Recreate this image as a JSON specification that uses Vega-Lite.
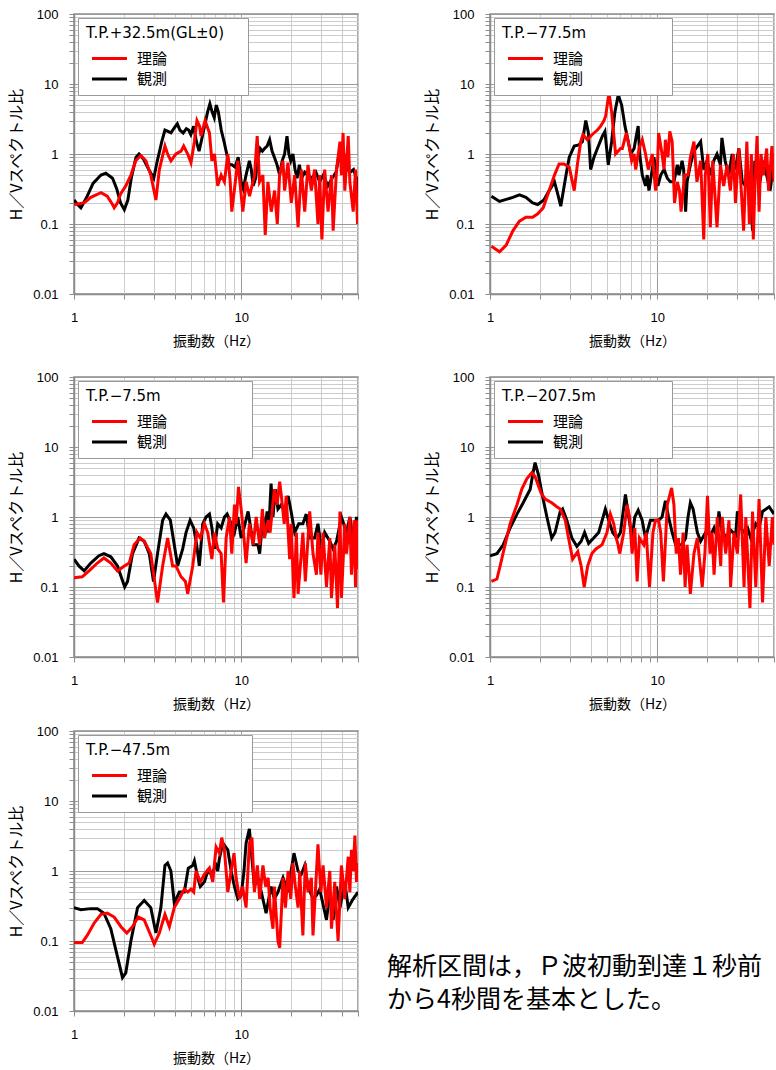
{
"$schema": "https://vega.github.io/schema/vega-lite/v6.json",
"padding": {"left": 7, "top": 7, "right": 0, "bottom": 0},
"datasets": {
"p1": [
{"s":"観測","f":1,"v":0.22},{"s":"観測","f":1.05,"v":0.19},{"s":"観測","f":1.1,"v":0.17},{"s":"観測","f":1.2,"v":0.25},{"s":"観測","f":1.3,"v":0.38},{"s":"観測","f":1.45,"v":0.5},{"s":"観測","f":1.55,"v":0.53},{"s":"観測","f":1.7,"v":0.45},{"s":"観測","f":1.8,"v":0.32},{"s":"観測","f":1.9,"v":0.2},{"s":"観測","f":2.0,"v":0.16},{"s":"観測","f":2.1,"v":0.22},{"s":"観測","f":2.2,"v":0.45},{"s":"観測","f":2.35,"v":0.9},{"s":"観測","f":2.45,"v":1.0},{"s":"観測","f":2.6,"v":0.85},{"s":"観測","f":2.8,"v":0.6},{"s":"観測","f":3.0,"v":0.45},{"s":"観測","f":3.15,"v":0.8},{"s":"観測","f":3.35,"v":1.5},{"s":"観測","f":3.5,"v":2.2},{"s":"観測","f":3.65,"v":2.1},{"s":"観測","f":3.8,"v":2.0},{"s":"観測","f":4.0,"v":2.4},{"s":"観測","f":4.15,"v":2.7},{"s":"観測","f":4.3,"v":2.2},{"s":"観測","f":4.5,"v":2.0},{"s":"観測","f":4.7,"v":2.3},{"s":"観測","f":4.85,"v":2.2},{"s":"観測","f":5.0,"v":1.9},{"s":"観測","f":5.2,"v":2.5},{"s":"観測","f":5.4,"v":1.5},{"s":"観測","f":5.6,"v":1.1},{"s":"観測","f":5.8,"v":1.6},{"s":"観測","f":6.1,"v":2.8},{"s":"観測","f":6.3,"v":4.0},{"s":"観測","f":6.5,"v":5.2},{"s":"観測","f":6.7,"v":4.0},{"s":"観測","f":6.9,"v":3.3},{"s":"観測","f":7.1,"v":5.0},{"s":"観測","f":7.3,"v":4.0},{"s":"観測","f":7.6,"v":2.2},{"s":"観測","f":7.9,"v":1.5},{"s":"観測","f":8.2,"v":1.0},{"s":"観測","f":8.5,"v":0.7},{"s":"観測","f":8.8,"v":0.7},{"s":"観測","f":9.2,"v":0.65},{"s":"観測","f":9.6,"v":0.9},{"s":"観測","f":10,"v":0.4},{"s":"観測","f":10.3,"v":0.32},{"s":"観測","f":10.7,"v":0.5},{"s":"観測","f":11.2,"v":0.8},{"s":"観測","f":11.5,"v":0.6},{"s":"観測","f":11.8,"v":0.35},{"s":"観測","f":12.2,"v":0.45},{"s":"観測","f":12.6,"v":0.9},{"s":"観測","f":13.0,"v":1.2},{"s":"観測","f":13.4,"v":1.1},{"s":"観測","f":13.8,"v":1.2},{"s":"観測","f":14.3,"v":1.3},{"s":"観測","f":14.8,"v":1.6},{"s":"観測","f":15.3,"v":1.1},{"s":"観測","f":15.8,"v":0.9},{"s":"観測","f":16.4,"v":0.7},{"s":"観測","f":17.0,"v":0.5},{"s":"観測","f":17.6,"v":0.8},{"s":"観測","f":18.2,"v":1.0},{"s":"観測","f":18.8,"v":1.8},{"s":"観測","f":19.3,"v":1.0},{"s":"観測","f":19.8,"v":0.8},{"s":"観測","f":20.4,"v":1.0},{"s":"観測","f":21.0,"v":0.6},{"s":"観測","f":21.6,"v":0.45},{"s":"観測","f":22.3,"v":0.7},{"s":"観測","f":23.0,"v":0.45},{"s":"観測","f":24,"v":0.55},{"s":"観測","f":25,"v":0.5},{"s":"観測","f":26.5,"v":0.45},{"s":"観測","f":28,"v":0.55},{"s":"観測","f":29.5,"v":0.4},{"s":"観測","f":31,"v":0.5},{"s":"観測","f":33,"v":0.35},{"s":"観測","f":35,"v":0.45},{"s":"観測","f":37,"v":0.55},{"s":"観測","f":38.5,"v":1.0},{"s":"観測","f":40,"v":0.7},{"s":"観測","f":41.5,"v":0.9},{"s":"観測","f":43,"v":0.6},{"s":"観測","f":45,"v":0.55},{"s":"観測","f":47,"v":0.6},{"s":"観測","f":49,"v":0.45},{"s":"観測","f":50,"v":0.25},
{"s":"理論","f":1,"v":0.19},{"s":"理論","f":1.15,"v":0.2},{"s":"理論","f":1.26,"v":0.24},{"s":"理論","f":1.45,"v":0.28},{"s":"理論","f":1.58,"v":0.25},{"s":"理論","f":1.7,"v":0.19},{"s":"理論","f":1.74,"v":0.17},{"s":"理論","f":1.82,"v":0.2},{"s":"理論","f":1.9,"v":0.27},{"s":"理論","f":2.04,"v":0.35},{"s":"理論","f":2.19,"v":0.5},{"s":"理論","f":2.34,"v":0.8},{"s":"理論","f":2.51,"v":0.95},{"s":"理論","f":2.69,"v":0.8},{"s":"理論","f":2.88,"v":0.5},{"s":"理論","f":3.09,"v":0.22},{"s":"理論","f":3.24,"v":0.6},{"s":"理論","f":3.5,"v":1.3},{"s":"理論","f":3.63,"v":1.0},{"s":"理論","f":3.8,"v":0.8},{"s":"理論","f":4.07,"v":1.0},{"s":"理論","f":4.37,"v":1.1},{"s":"理論","f":4.53,"v":1.3},{"s":"理論","f":4.79,"v":1.0},{"s":"理論","f":5.01,"v":0.75},{"s":"理論","f":5.25,"v":1.5},{"s":"理論","f":5.44,"v":3.0},{"s":"理論","f":5.64,"v":2.5},{"s":"理論","f":5.75,"v":1.8},{"s":"理論","f":6.08,"v":3.0},{"s":"理論","f":6.46,"v":2.0},{"s":"理論","f":6.68,"v":0.8},{"s":"理論","f":6.92,"v":1.0},{"s":"理論","f":7.24,"v":0.35},{"s":"理論","f":7.59,"v":0.5},{"s":"理論","f":7.94,"v":0.4},{"s":"理論","f":8.32,"v":1.0},{"s":"理論","f":8.6,"v":0.4},{"s":"理論","f":8.79,"v":0.15},{"s":"理論","f":9.55,"v":0.8},{"s":"理論","f":10.23,"v":0.15},{"s":"理論","f":10.72,"v":0.4},{"s":"理論","f":11.22,"v":0.25},{"s":"理論","f":12.02,"v":0.5},{"s":"理論","f":12.47,"v":1.8},{"s":"理論","f":12.88,"v":0.4},{"s":"理論","f":13.49,"v":0.5},{"s":"理論","f":13.93,"v":0.07},{"s":"理論","f":14.45,"v":0.4},{"s":"理論","f":15.14,"v":0.15},{"s":"理論","f":15.85,"v":0.3},{"s":"理論","f":16.45,"v":0.1},{"s":"理論","f":16.98,"v":0.5},{"s":"理論","f":17.78,"v":0.8},{"s":"理論","f":18.2,"v":0.3},{"s":"理論","f":19.05,"v":0.75},{"s":"理論","f":19.95,"v":0.2},{"s":"理論","f":20.9,"v":0.5},{"s":"理論","f":21.9,"v":0.09},{"s":"理論","f":22.9,"v":0.6},{"s":"理論","f":24.0,"v":0.15},{"s":"理論","f":25.1,"v":0.7},{"s":"理論","f":26.3,"v":0.3},{"s":"理論","f":27.5,"v":0.6},{"s":"理論","f":28.8,"v":0.1},{"s":"理論","f":29.5,"v":0.5},{"s":"理論","f":30.4,"v":0.06},{"s":"理論","f":31.6,"v":0.6},{"s":"理論","f":33.1,"v":0.15},{"s":"理論","f":34.7,"v":0.5},{"s":"理論","f":35.5,"v":0.08},{"s":"理論","f":37.2,"v":0.6},{"s":"理論","f":39.0,"v":1.5},{"s":"理論","f":39.8,"v":0.5},{"s":"理論","f":40.7,"v":2.0},{"s":"理論","f":41.7,"v":0.3},{"s":"理論","f":43.7,"v":1.8},{"s":"理論","f":44.7,"v":0.4},{"s":"理論","f":46.8,"v":0.15},{"s":"理論","f":48.3,"v":0.6},{"s":"理論","f":49.7,"v":0.1},{"s":"理論","f":50,"v":0.2}
],
"p2": [
{"s":"観測","f":1.02,"v":0.25},{"s":"観測","f":1.14,"v":0.21},{"s":"観測","f":1.37,"v":0.24},{"s":"観測","f":1.5,"v":0.26},{"s":"観測","f":1.64,"v":0.24},{"s":"観測","f":1.8,"v":0.2},{"s":"観測","f":1.93,"v":0.19},{"s":"観測","f":2.1,"v":0.22},{"s":"観測","f":2.26,"v":0.3},{"s":"観測","f":2.43,"v":0.4},{"s":"観測","f":2.53,"v":0.28},{"s":"観測","f":2.65,"v":0.18},{"s":"観測","f":2.85,"v":0.5},{"s":"観測","f":2.98,"v":0.9},{"s":"観測","f":3.19,"v":1.3},{"s":"観測","f":3.4,"v":1.35},{"s":"観測","f":3.57,"v":1.5},{"s":"観測","f":3.74,"v":3.0},{"s":"観測","f":3.88,"v":2.0},{"s":"観測","f":4.0,"v":0.6},{"s":"観測","f":4.19,"v":0.9},{"s":"観測","f":4.39,"v":1.2},{"s":"観測","f":4.7,"v":1.8},{"s":"観測","f":4.87,"v":2.1},{"s":"観測","f":5.1,"v":0.7},{"s":"観測","f":5.34,"v":1.5},{"s":"観測","f":5.59,"v":4.0},{"s":"観測","f":5.85,"v":7.0},{"s":"観測","f":6.13,"v":5.0},{"s":"観測","f":6.42,"v":2.5},{"s":"観測","f":6.72,"v":1.5},{"s":"観測","f":6.95,"v":1.0},{"s":"観測","f":7.28,"v":1.2},{"s":"観測","f":7.5,"v":1.8},{"s":"観測","f":7.7,"v":2.5},{"s":"観測","f":7.86,"v":1.0},{"s":"観測","f":8.15,"v":0.5},{"s":"観測","f":8.52,"v":0.35},{"s":"観測","f":8.72,"v":0.5},{"s":"観測","f":8.93,"v":0.3},{"s":"観測","f":9.35,"v":0.6},{"s":"観測","f":9.57,"v":0.9},{"s":"観測","f":9.79,"v":0.6},{"s":"観測","f":10.1,"v":0.35},{"s":"観測","f":10.5,"v":0.5},{"s":"観測","f":11.0,"v":0.6},{"s":"観測","f":11.5,"v":0.45},{"s":"観測","f":12.0,"v":0.4},{"s":"観測","f":12.6,"v":0.4},{"s":"観測","f":13.2,"v":0.7},{"s":"観測","f":13.5,"v":0.5},{"s":"観測","f":14.1,"v":0.8},{"s":"観測","f":14.4,"v":0.6},{"s":"観測","f":14.8,"v":0.15},{"s":"観測","f":15.1,"v":0.4},{"s":"観測","f":15.8,"v":0.7},{"s":"観測","f":16.6,"v":1.1},{"s":"観測","f":18.2,"v":1.5},{"s":"観測","f":19.0,"v":0.6},{"s":"観測","f":19.9,"v":0.8},{"s":"観測","f":20.8,"v":0.5},{"s":"観測","f":21.8,"v":0.8},{"s":"観測","f":22.8,"v":1.0},{"s":"観測","f":23.9,"v":0.7},{"s":"観測","f":24.4,"v":1.7},{"s":"観測","f":25.5,"v":0.8},{"s":"観測","f":26.8,"v":0.5},{"s":"観測","f":28.1,"v":1.0},{"s":"観測","f":29.4,"v":0.6},{"s":"観測","f":30.8,"v":1.2},{"s":"観測","f":32.3,"v":0.4},{"s":"観測","f":33.8,"v":0.35},{"s":"観測","f":35.4,"v":0.45},{"s":"観測","f":36.2,"v":0.3},{"s":"観測","f":37.2,"v":0.08},{"s":"観測","f":38.4,"v":0.8},{"s":"観測","f":41.2,"v":0.4},{"s":"観測","f":43.2,"v":0.8},{"s":"観測","f":45.2,"v":0.5},{"s":"観測","f":47.4,"v":0.3},{"s":"観測","f":50,"v":0.8},
{"s":"理論","f":1.02,"v":0.048},{"s":"理論","f":1.14,"v":0.04},{"s":"理論","f":1.25,"v":0.05},{"s":"理論","f":1.37,"v":0.08},{"s":"理論","f":1.5,"v":0.11},{"s":"理論","f":1.64,"v":0.125},{"s":"理論","f":1.8,"v":0.125},{"s":"理論","f":1.93,"v":0.14},{"s":"理論","f":2.08,"v":0.17},{"s":"理論","f":2.26,"v":0.3},{"s":"理論","f":2.43,"v":0.5},{"s":"理論","f":2.59,"v":0.72},{"s":"理論","f":2.77,"v":0.72},{"s":"理論","f":2.98,"v":0.65},{"s":"理論","f":3.19,"v":0.3},{"s":"理論","f":3.33,"v":0.7},{"s":"理論","f":3.49,"v":1.5},{"s":"理論","f":3.6,"v":1.9},{"s":"理論","f":3.82,"v":1.6},{"s":"理論","f":4.09,"v":1.9},{"s":"理論","f":4.39,"v":2.2},{"s":"理論","f":4.59,"v":2.5},{"s":"理論","f":4.81,"v":3.0},{"s":"理論","f":4.92,"v":3.5},{"s":"理論","f":5.15,"v":7.5},{"s":"理論","f":5.34,"v":4.0},{"s":"理論","f":5.64,"v":1.0},{"s":"理論","f":6.04,"v":1.2},{"s":"理論","f":6.19,"v":1.2},{"s":"理論","f":6.54,"v":2.0},{"s":"理論","f":6.84,"v":1.2},{"s":"理論","f":7.04,"v":0.8},{"s":"理論","f":7.28,"v":1.0},{"s":"理論","f":7.44,"v":0.6},{"s":"理論","f":7.79,"v":1.2},{"s":"理論","f":8.15,"v":1.6},{"s":"理論","f":8.52,"v":1.0},{"s":"理論","f":8.85,"v":0.6},{"s":"理論","f":9.35,"v":1.0},{"s":"理論","f":9.79,"v":0.3},{"s":"理論","f":10,"v":0.5},{"s":"理論","f":10.2,"v":2.0},{"s":"理論","f":10.7,"v":1.0},{"s":"理論","f":11.0,"v":0.6},{"s":"理論","f":11.2,"v":1.6},{"s":"理論","f":11.6,"v":0.9},{"s":"理論","f":11.9,"v":2.1},{"s":"理論","f":12.3,"v":1.5},{"s":"理論","f":12.7,"v":0.2},{"s":"理論","f":13.2,"v":0.4},{"s":"理論","f":13.6,"v":0.3},{"s":"理論","f":13.9,"v":0.15},{"s":"理論","f":14.6,"v":0.5},{"s":"理論","f":15.3,"v":0.5},{"s":"理論","f":15.8,"v":0.9},{"s":"理論","f":16.6,"v":1.5},{"s":"理論","f":17.3,"v":0.4},{"s":"理論","f":18.2,"v":0.8},{"s":"理論","f":19.0,"v":0.06},{"s":"理論","f":19.4,"v":0.5},{"s":"理論","f":20.1,"v":1.0},{"s":"理論","f":20.8,"v":0.09},{"s":"理論","f":21.5,"v":0.8},{"s":"理論","f":22.8,"v":0.09},{"s":"理論","f":23.9,"v":0.7},{"s":"理論","f":25.0,"v":0.35},{"s":"理論","f":26.2,"v":0.7},{"s":"理論","f":27.4,"v":0.3},{"s":"理論","f":28.6,"v":1.0},{"s":"理論","f":29.4,"v":0.2},{"s":"理論","f":30.8,"v":1.2},{"s":"理論","f":32.9,"v":0.08},{"s":"理論","f":34.4,"v":1.5},{"s":"理論","f":35.6,"v":0.1},{"s":"理論","f":36.6,"v":1.0},{"s":"理論","f":37.6,"v":0.06},{"s":"理論","f":38.5,"v":0.4},{"s":"理論","f":39.6,"v":1.8},{"s":"理論","f":40.7,"v":0.15},{"s":"理論","f":41.8,"v":1.0},{"s":"理論","f":43.2,"v":0.5},{"s":"理論","f":45.2,"v":1.2},{"s":"理論","f":46.4,"v":0.3},{"s":"理論","f":48.6,"v":1.3},{"s":"理論","f":50,"v":0.4}
],
"p3": [
{"s":"観測","f":1,"v":0.25},{"s":"観測","f":1.07,"v":0.2},{"s":"観測","f":1.15,"v":0.17},{"s":"観測","f":1.26,"v":0.22},{"s":"観測","f":1.41,"v":0.28},{"s":"観測","f":1.51,"v":0.3},{"s":"観測","f":1.66,"v":0.27},{"s":"観測","f":1.82,"v":0.2},{"s":"観測","f":2.01,"v":0.1},{"s":"観測","f":2.09,"v":0.12},{"s":"観測","f":2.24,"v":0.3},{"s":"観測","f":2.45,"v":0.5},{"s":"観測","f":2.63,"v":0.45},{"s":"観測","f":2.82,"v":0.3},{"s":"観測","f":2.99,"v":0.12},{"s":"観測","f":3.16,"v":0.3},{"s":"観測","f":3.39,"v":0.9},{"s":"観測","f":3.55,"v":1.1},{"s":"観測","f":3.77,"v":0.9},{"s":"観測","f":3.98,"v":0.4},{"s":"観測","f":4.17,"v":0.2},{"s":"観測","f":4.47,"v":0.35},{"s":"観測","f":4.68,"v":0.6},{"s":"観測","f":4.95,"v":0.9},{"s":"観測","f":5.2,"v":0.7},{"s":"観測","f":5.42,"v":0.4},{"s":"観測","f":5.62,"v":0.2},{"s":"観測","f":5.89,"v":0.8},{"s":"観測","f":6.17,"v":1.0},{"s":"観測","f":6.46,"v":1.1},{"s":"観測","f":6.68,"v":0.7},{"s":"観測","f":6.92,"v":0.35},{"s":"観測","f":7.24,"v":0.8},{"s":"観測","f":7.59,"v":0.7},{"s":"観測","f":7.94,"v":1.0},{"s":"観測","f":8.24,"v":1.1},{"s":"観測","f":8.71,"v":0.8},{"s":"観測","f":9.12,"v":0.6},{"s":"観測","f":9.55,"v":1.0},{"s":"観測","f":10,"v":0.5},{"s":"観測","f":10.4,"v":0.7},{"s":"観測","f":11.0,"v":1.2},{"s":"観測","f":11.4,"v":0.7},{"s":"観測","f":11.8,"v":0.4},{"s":"観測","f":12.6,"v":0.4},{"s":"観測","f":12.9,"v":0.3},{"s":"観測","f":13.5,"v":1.0},{"s":"観測","f":13.8,"v":0.6},{"s":"観測","f":14.3,"v":1.2},{"s":"観測","f":14.6,"v":0.6},{"s":"観測","f":15.1,"v":3.0},{"s":"観測","f":15.5,"v":1.0},{"s":"観測","f":16.0,"v":2.5},{"s":"観測","f":16.6,"v":1.3},{"s":"観測","f":17.4,"v":1.5},{"s":"観測","f":18.2,"v":1.2},{"s":"観測","f":19.1,"v":2.0},{"s":"観測","f":19.9,"v":1.2},{"s":"観測","f":20.9,"v":0.6},{"s":"観測","f":22.1,"v":0.8},{"s":"観測","f":23.4,"v":0.8},{"s":"観測","f":24.5,"v":1.1},{"s":"観測","f":25.7,"v":0.5},{"s":"観測","f":27.5,"v":0.5},{"s":"観測","f":28.8,"v":0.8},{"s":"観測","f":30.2,"v":0.35},{"s":"観測","f":31.6,"v":0.6},{"s":"観測","f":33.9,"v":0.45},{"s":"観測","f":35.5,"v":0.35},{"s":"観測","f":37.2,"v":0.45},{"s":"観測","f":39.8,"v":1.0},{"s":"観測","f":42.7,"v":0.6},{"s":"観測","f":44.7,"v":1.0},{"s":"観測","f":46.8,"v":0.45},{"s":"観測","f":49,"v":1.0},{"s":"観測","f":50,"v":0.8},
{"s":"理論","f":1,"v":0.135},{"s":"理論","f":1.12,"v":0.14},{"s":"理論","f":1.23,"v":0.17},{"s":"理論","f":1.38,"v":0.22},{"s":"理論","f":1.51,"v":0.26},{"s":"理論","f":1.66,"v":0.22},{"s":"理論","f":1.82,"v":0.17},{"s":"理論","f":2.0,"v":0.2},{"s":"理論","f":2.14,"v":0.22},{"s":"理論","f":2.29,"v":0.4},{"s":"理論","f":2.49,"v":0.5},{"s":"理論","f":2.63,"v":0.45},{"s":"理論","f":2.88,"v":0.3},{"s":"理論","f":3.16,"v":0.06},{"s":"理論","f":3.39,"v":0.2},{"s":"理論","f":3.63,"v":0.5},{"s":"理論","f":3.89,"v":0.2},{"s":"理論","f":4.07,"v":0.2},{"s":"理論","f":4.37,"v":0.14},{"s":"理論","f":4.64,"v":0.12},{"s":"理論","f":4.79,"v":0.08},{"s":"理論","f":5.13,"v":0.2},{"s":"理論","f":5.44,"v":0.6},{"s":"理論","f":5.7,"v":0.5},{"s":"理論","f":6.03,"v":0.8},{"s":"理論","f":6.31,"v":0.6},{"s":"理論","f":6.68,"v":0.25},{"s":"理論","f":6.92,"v":0.6},{"s":"理論","f":7.24,"v":0.35},{"s":"理論","f":7.59,"v":0.3},{"s":"理論","f":7.84,"v":0.06},{"s":"理論","f":8.13,"v":0.5},{"s":"理論","f":8.51,"v":1.0},{"s":"理論","f":8.79,"v":0.3},{"s":"理論","f":9.12,"v":1.5},{"s":"理論","f":9.33,"v":0.8},{"s":"理論","f":9.64,"v":2.7},{"s":"理論","f":10,"v":1.3},{"s":"理論","f":10.4,"v":0.5},{"s":"理論","f":10.7,"v":0.22},{"s":"理論","f":11.2,"v":0.8},{"s":"理論","f":11.8,"v":0.4},{"s":"理論","f":12.3,"v":1.0},{"s":"理論","f":12.9,"v":0.4},{"s":"理論","f":13.4,"v":1.3},{"s":"理論","f":13.8,"v":0.5},{"s":"理論","f":14.5,"v":0.9},{"s":"理論","f":14.9,"v":0.6},{"s":"理論","f":15.5,"v":1.6},{"s":"理論","f":15.8,"v":2.5},{"s":"理論","f":16.4,"v":1.5},{"s":"理論","f":17.0,"v":3.2},{"s":"理論","f":17.4,"v":2.0},{"s":"理論","f":18.1,"v":0.8},{"s":"理論","f":18.6,"v":2.0},{"s":"理論","f":19.5,"v":0.25},{"s":"理論","f":19.9,"v":0.8},{"s":"理論","f":20.7,"v":0.07},{"s":"理論","f":21.4,"v":0.6},{"s":"理論","f":21.9,"v":0.08},{"s":"理論","f":22.9,"v":0.3},{"s":"理論","f":23.4,"v":0.6},{"s":"理論","f":24.2,"v":0.12},{"s":"理論","f":25.7,"v":1.2},{"s":"理論","f":26.9,"v":0.3},{"s":"理論","f":28.2,"v":0.15},{"s":"理論","f":28.8,"v":0.6},{"s":"理論","f":30.0,"v":0.15},{"s":"理論","f":30.9,"v":0.6},{"s":"理論","f":32.4,"v":0.1},{"s":"理論","f":33.9,"v":0.5},{"s":"理論","f":34.7,"v":0.07},{"s":"理論","f":36.3,"v":0.4},{"s":"理論","f":37.7,"v":0.05},{"s":"理論","f":39.0,"v":1.2},{"s":"理論","f":39.8,"v":0.07},{"s":"理論","f":41.7,"v":0.8},{"s":"理論","f":42.7,"v":0.3},{"s":"理論","f":44.7,"v":1.0},{"s":"理論","f":45.7,"v":0.15},{"s":"理論","f":47.4,"v":0.9},{"s":"理論","f":48.3,"v":0.1},{"s":"理論","f":49.2,"v":0.9},{"s":"理論","f":50,"v":0.18}
],
"p4": [
{"s":"観測","f":1,"v":0.28},{"s":"観測","f":1.1,"v":0.3},{"s":"観測","f":1.2,"v":0.4},{"s":"観測","f":1.32,"v":0.7},{"s":"観測","f":1.45,"v":1.1},{"s":"観測","f":1.58,"v":1.6},{"s":"観測","f":1.74,"v":2.5},{"s":"観測","f":1.8,"v":4.0},{"s":"観測","f":1.86,"v":6.0},{"s":"観測","f":1.95,"v":4.0},{"s":"観測","f":2.06,"v":2.0},{"s":"観測","f":2.19,"v":1.0},{"s":"観測","f":2.34,"v":0.5},{"s":"観測","f":2.45,"v":0.6},{"s":"観測","f":2.63,"v":1.2},{"s":"観測","f":2.72,"v":1.3},{"s":"観測","f":2.88,"v":0.9},{"s":"観測","f":3.09,"v":0.5},{"s":"観測","f":3.31,"v":0.38},{"s":"観測","f":3.51,"v":0.45},{"s":"観測","f":3.68,"v":0.6},{"s":"観測","f":3.89,"v":0.42},{"s":"観測","f":4.17,"v":0.5},{"s":"観測","f":4.47,"v":0.6},{"s":"観測","f":4.9,"v":1.3},{"s":"観測","f":5.13,"v":0.9},{"s":"観測","f":5.42,"v":0.6},{"s":"観測","f":5.75,"v":0.5},{"s":"観測","f":6.03,"v":0.6},{"s":"観測","f":6.46,"v":2.1},{"s":"観測","f":6.76,"v":1.0},{"s":"観測","f":7.08,"v":0.5},{"s":"観測","f":7.35,"v":1.0},{"s":"観測","f":7.7,"v":1.25},{"s":"観測","f":8.13,"v":0.9},{"s":"観測","f":8.51,"v":0.5},{"s":"観測","f":9.12,"v":0.9},{"s":"観測","f":10.2,"v":0.9},{"s":"観測","f":10.7,"v":1.0},{"s":"観測","f":11.2,"v":1.7},{"s":"観測","f":11.7,"v":1.0},{"s":"観測","f":12.3,"v":0.6},{"s":"観測","f":12.9,"v":0.4},{"s":"観測","f":14.1,"v":0.4},{"s":"観測","f":14.8,"v":0.5},{"s":"観測","f":15.3,"v":1.0},{"s":"観測","f":15.8,"v":1.6},{"s":"観測","f":16.4,"v":1.3},{"s":"観測","f":17.4,"v":0.6},{"s":"観測","f":18.2,"v":0.45},{"s":"観測","f":19.5,"v":0.6},{"s":"観測","f":20.9,"v":0.55},{"s":"観測","f":21.9,"v":0.7},{"s":"観測","f":22.9,"v":0.5},{"s":"観測","f":23.4,"v":1.2},{"s":"観測","f":24.5,"v":0.6},{"s":"観測","f":26.3,"v":0.5},{"s":"観測","f":27.5,"v":0.65},{"s":"観測","f":29.5,"v":0.55},{"s":"観測","f":30.2,"v":1.2},{"s":"観測","f":32.4,"v":0.6},{"s":"観測","f":34.7,"v":0.7},{"s":"観測","f":36.3,"v":0.5},{"s":"観測","f":38.9,"v":0.8},{"s":"観測","f":40.7,"v":0.7},{"s":"観測","f":42.7,"v":1.2},{"s":"観測","f":46.8,"v":1.4},{"s":"観測","f":50,"v":1.1},
{"s":"理論","f":1.02,"v":0.12},{"s":"理論","f":1.1,"v":0.13},{"s":"理論","f":1.15,"v":0.2},{"s":"理論","f":1.23,"v":0.4},{"s":"理論","f":1.32,"v":0.8},{"s":"理論","f":1.45,"v":1.5},{"s":"理論","f":1.55,"v":2.5},{"s":"理論","f":1.66,"v":3.5},{"s":"理論","f":1.78,"v":4.3},{"s":"理論","f":1.86,"v":3.8},{"s":"理論","f":2.02,"v":2.2},{"s":"理論","f":2.14,"v":1.8},{"s":"理論","f":2.34,"v":1.6},{"s":"理論","f":2.51,"v":1.4},{"s":"理論","f":2.63,"v":1.3},{"s":"理論","f":2.82,"v":0.9},{"s":"理論","f":2.95,"v":0.5},{"s":"理論","f":3.12,"v":0.25},{"s":"理論","f":3.35,"v":0.32},{"s":"理論","f":3.51,"v":0.2},{"s":"理論","f":3.66,"v":0.1},{"s":"理論","f":3.84,"v":0.2},{"s":"理論","f":4.07,"v":0.3},{"s":"理論","f":4.3,"v":0.35},{"s":"理論","f":4.68,"v":0.4},{"s":"理論","f":5.01,"v":0.6},{"s":"理論","f":5.25,"v":1.1},{"s":"理論","f":5.5,"v":0.8},{"s":"理論","f":5.69,"v":0.5},{"s":"理論","f":5.84,"v":0.4},{"s":"理論","f":5.97,"v":0.3},{"s":"理論","f":6.31,"v":0.6},{"s":"理論","f":6.61,"v":1.5},{"s":"理論","f":6.84,"v":1.0},{"s":"理論","f":7.08,"v":0.3},{"s":"理論","f":7.35,"v":0.7},{"s":"理論","f":7.59,"v":0.12},{"s":"理論","f":7.84,"v":0.5},{"s":"理論","f":8.32,"v":0.4},{"s":"理論","f":8.6,"v":0.6},{"s":"理論","f":9.0,"v":0.1},{"s":"理論","f":9.44,"v":0.6},{"s":"理論","f":9.77,"v":0.9},{"s":"理論","f":10.2,"v":0.9},{"s":"理論","f":10.5,"v":0.6},{"s":"理論","f":10.9,"v":0.12},{"s":"理論","f":11.5,"v":1.5},{"s":"理論","f":12.2,"v":2.6},{"s":"理論","f":12.6,"v":1.5},{"s":"理論","f":13.0,"v":0.3},{"s":"理論","f":13.4,"v":0.5},{"s":"理論","f":13.8,"v":0.15},{"s":"理論","f":14.3,"v":0.6},{"s":"理論","f":14.7,"v":0.1},{"s":"理論","f":15.1,"v":0.4},{"s":"理論","f":15.8,"v":0.08},{"s":"理論","f":16.6,"v":0.3},{"s":"理論","f":17.4,"v":0.5},{"s":"理論","f":18.6,"v":0.1},{"s":"理論","f":19.3,"v":0.3},{"s":"理論","f":20.0,"v":2.0},{"s":"理論","f":20.7,"v":0.3},{"s":"理論","f":21.3,"v":0.6},{"s":"理論","f":21.9,"v":0.15},{"s":"理論","f":22.9,"v":1.0},{"s":"理論","f":24.0,"v":0.2},{"s":"理論","f":24.5,"v":1.0},{"s":"理論","f":25.7,"v":0.3},{"s":"理論","f":26.9,"v":0.9},{"s":"理論","f":27.5,"v":0.1},{"s":"理論","f":28.8,"v":0.6},{"s":"理論","f":30.2,"v":0.3},{"s":"理論","f":31.6,"v":2.1},{"s":"理論","f":33.1,"v":0.1},{"s":"理論","f":33.9,"v":1.0},{"s":"理論","f":35.9,"v":0.05},{"s":"理論","f":37.2,"v":1.2},{"s":"理論","f":38.9,"v":0.1},{"s":"理論","f":40.7,"v":1.8},{"s":"理論","f":42.7,"v":0.06},{"s":"理論","f":44.7,"v":1.0},{"s":"理論","f":46.8,"v":0.2},{"s":"理論","f":48.9,"v":1.0},{"s":"理論","f":50,"v":0.4}
],
"p5": [
{"s":"観測","f":1,"v":0.3},{"s":"観測","f":1.1,"v":0.28},{"s":"観測","f":1.26,"v":0.29},{"s":"観測","f":1.38,"v":0.29},{"s":"観測","f":1.51,"v":0.25},{"s":"観測","f":1.66,"v":0.15},{"s":"観測","f":1.82,"v":0.06},{"s":"観測","f":1.95,"v":0.03},{"s":"観測","f":2.04,"v":0.035},{"s":"観測","f":2.19,"v":0.1},{"s":"観測","f":2.4,"v":0.3},{"s":"観測","f":2.63,"v":0.38},{"s":"観測","f":2.88,"v":0.3},{"s":"観測","f":3.09,"v":0.13},{"s":"観測","f":3.31,"v":0.3},{"s":"観測","f":3.5,"v":1.2},{"s":"観測","f":3.63,"v":1.3},{"s":"観測","f":3.8,"v":1.0},{"s":"観測","f":3.98,"v":0.35},{"s":"観測","f":4.27,"v":0.5},{"s":"観測","f":4.57,"v":0.5},{"s":"観測","f":4.83,"v":1.1},{"s":"観測","f":5.13,"v":1.2},{"s":"観測","f":5.25,"v":1.4},{"s":"観測","f":5.5,"v":0.8},{"s":"観測","f":5.7,"v":0.6},{"s":"観測","f":6.03,"v":0.7},{"s":"観測","f":6.31,"v":1.0},{"s":"観測","f":6.61,"v":0.9},{"s":"観測","f":7.08,"v":1.2},{"s":"観測","f":7.24,"v":1.0},{"s":"観測","f":7.41,"v":1.5},{"s":"観測","f":7.76,"v":2.5},{"s":"観測","f":8.32,"v":2.0},{"s":"観測","f":8.71,"v":1.0},{"s":"観測","f":9.12,"v":0.6},{"s":"観測","f":9.55,"v":0.4},{"s":"観測","f":10,"v":0.45},{"s":"観測","f":10.4,"v":1.0},{"s":"観測","f":10.7,"v":2.5},{"s":"観測","f":11.2,"v":4.0},{"s":"観測","f":11.6,"v":1.5},{"s":"観測","f":12.0,"v":0.6},{"s":"観測","f":12.6,"v":0.8},{"s":"観測","f":13.2,"v":0.5},{"s":"観測","f":14.1,"v":0.25},{"s":"観測","f":15.1,"v":0.6},{"s":"観測","f":15.8,"v":0.4},{"s":"観測","f":16.6,"v":0.5},{"s":"観測","f":17.8,"v":0.8},{"s":"観測","f":19.1,"v":0.5},{"s":"観測","f":19.9,"v":1.0},{"s":"観測","f":20.7,"v":1.8},{"s":"観測","f":21.9,"v":1.0},{"s":"観測","f":22.9,"v":0.9},{"s":"観測","f":24.0,"v":1.2},{"s":"観測","f":25.1,"v":0.6},{"s":"観測","f":26.9,"v":0.4},{"s":"観測","f":28.2,"v":0.45},{"s":"観測","f":29.5,"v":0.55},{"s":"観測","f":32.4,"v":0.2},{"s":"観測","f":33.9,"v":0.5},{"s":"観測","f":35.5,"v":0.2},{"s":"観測","f":37.2,"v":0.6},{"s":"観測","f":39.0,"v":0.3},{"s":"観測","f":41.7,"v":0.7},{"s":"観測","f":43.7,"v":0.3},{"s":"観測","f":46.8,"v":0.4},{"s":"観測","f":50,"v":0.5},
{"s":"理論","f":1,"v":0.095},{"s":"理論","f":1.12,"v":0.095},{"s":"理論","f":1.2,"v":0.12},{"s":"理論","f":1.32,"v":0.18},{"s":"理論","f":1.45,"v":0.24},{"s":"理論","f":1.58,"v":0.25},{"s":"理論","f":1.74,"v":0.22},{"s":"理論","f":1.91,"v":0.16},{"s":"理論","f":2.07,"v":0.13},{"s":"理論","f":2.24,"v":0.16},{"s":"理論","f":2.42,"v":0.22},{"s":"理論","f":2.63,"v":0.2},{"s":"理論","f":2.88,"v":0.12},{"s":"理論","f":3.02,"v":0.09},{"s":"理論","f":3.24,"v":0.13},{"s":"理論","f":3.5,"v":0.24},{"s":"理論","f":3.72,"v":0.16},{"s":"理論","f":3.98,"v":0.3},{"s":"理論","f":4.27,"v":0.4},{"s":"理論","f":4.57,"v":0.55},{"s":"理論","f":4.79,"v":0.5},{"s":"理論","f":5.01,"v":0.55},{"s":"理論","f":5.2,"v":0.5},{"s":"理論","f":5.37,"v":1.0},{"s":"理論","f":5.7,"v":0.7},{"s":"理論","f":6.03,"v":0.9},{"s":"理論","f":6.46,"v":1.1},{"s":"理論","f":6.76,"v":0.7},{"s":"理論","f":7.08,"v":2.2},{"s":"理論","f":7.41,"v":1.8},{"s":"理論","f":7.65,"v":3.0},{"s":"理論","f":7.94,"v":2.0},{"s":"理論","f":8.32,"v":0.5},{"s":"理論","f":8.71,"v":1.0},{"s":"理論","f":9.06,"v":1.8},{"s":"理論","f":9.33,"v":0.8},{"s":"理論","f":9.77,"v":0.4},{"s":"理論","f":10.2,"v":0.6},{"s":"理論","f":10.7,"v":0.3},{"s":"理論","f":11.2,"v":2.5},{"s":"理論","f":11.6,"v":3.0},{"s":"理論","f":12.0,"v":0.5},{"s":"理論","f":12.5,"v":1.2},{"s":"理論","f":12.9,"v":0.4},{"s":"理論","f":13.5,"v":1.2},{"s":"理論","f":14.0,"v":0.6},{"s":"理論","f":14.5,"v":0.8},{"s":"理論","f":14.9,"v":0.3},{"s":"理論","f":15.5,"v":0.15},{"s":"理論","f":15.8,"v":0.6},{"s":"理論","f":16.6,"v":0.1},{"s":"理論","f":17.0,"v":0.08},{"s":"理論","f":17.8,"v":0.8},{"s":"理論","f":18.4,"v":0.3},{"s":"理論","f":19.1,"v":1.0},{"s":"理論","f":19.8,"v":0.4},{"s":"理論","f":20.4,"v":1.3},{"s":"理論","f":21.1,"v":0.6},{"s":"理論","f":21.9,"v":0.3},{"s":"理論","f":22.4,"v":1.0},{"s":"理論","f":23.4,"v":0.12},{"s":"理論","f":24.2,"v":1.3},{"s":"理論","f":25.1,"v":0.5},{"s":"理論","f":26.3,"v":0.8},{"s":"理論","f":26.9,"v":0.12},{"s":"理論","f":28.8,"v":2.4},{"s":"理論","f":30.0,"v":0.5},{"s":"理論","f":30.9,"v":1.2},{"s":"理論","f":32.4,"v":0.3},{"s":"理論","f":33.9,"v":1.0},{"s":"理論","f":34.7,"v":0.15},{"s":"理論","f":36.3,"v":0.7},{"s":"理論","f":38.0,"v":0.1},{"s":"理論","f":39.8,"v":1.2},{"s":"理論","f":41.7,"v":0.4},{"s":"理論","f":43.7,"v":1.6},{"s":"理論","f":44.7,"v":0.5},{"s":"理論","f":45.7,"v":2.0},{"s":"理論","f":46.8,"v":1.0},{"s":"理論","f":47.9,"v":3.2},{"s":"理論","f":49,"v":0.7},{"s":"理論","f":50,"v":1.3}
]
},
"resolve": {"scale": {"color": "independent"}, "legend": {"color": "independent"}},
"spacing": 12,
"vconcat": [
{
"resolve": {"scale": {"color": "independent"}, "legend": {"color": "independent"}},
"spacing": 21,
"vconcat": [
{
"resolve": {"scale": {"color": "independent"}, "legend": {"color": "independent"}},
"spacing": 63,
"hconcat": [
{"width": 284, "height": 280, "data": {"name": "p1"},
"encoding": {
"x": {"field": "f", "type": "quantitative", "title": "振動数（Hz）", "scale": {"type": "log", "domain": [1, 50], "nice": false}, "axis": {"values": [1,2,3,4,5,6,7,8,9,10,20,30,40,50], "labelExpr": "abs(log(datum.value)/LN10-round(log(datum.value)/LN10))<0.001 ? format(datum.value,'~g') : ''", "gridColor": {"condition": {"test": "abs(log(datum.value)/LN10-round(log(datum.value)/LN10))<0.001", "value": "#9a9a9a"}, "value": "#cccccc"}}},
"y": {"field": "v", "type": "quantitative", "title": "H／Vスペクトル比", "scale": {"type": "log", "domain": [0.01, 100], "nice": false}, "axis": {"values": [0.01,0.02,0.03,0.04,0.05,0.06,0.07,0.08,0.09,0.1,0.2,0.3,0.4,0.5,0.6,0.7,0.8,0.9,1,2,3,4,5,6,7,8,9,10,20,30,40,50,60,70,80,90,100], "labelExpr": "abs(log(datum.value)/LN10-round(log(datum.value)/LN10))<0.001 ? format(datum.value,'~g') : ''", "gridColor": {"condition": {"test": "abs(log(datum.value)/LN10-round(log(datum.value)/LN10))<0.001", "value": "#9a9a9a"}, "value": "#cccccc"}}},
"color": {"field": "s", "type": "nominal", "scale": {"domain": ["理論", "観測"], "range": ["#ff0000", "#000000"]}, "legend": {"title": "T.P.+32.5m(GL±0)\u00a0\u2800"}}
},
"layer": [
{"transform": [{"filter": "datum.s=='観測'"}], "mark": {"type": "line", "strokeWidth": 3, "clip": true}},
{"transform": [{"filter": "datum.s=='理論'"}], "mark": {"type": "line", "strokeWidth": 3, "clip": true}}
]},
{"width": 284, "height": 280, "data": {"name": "p2"},
"encoding": {
"x": {"field": "f", "type": "quantitative", "title": "振動数（Hz）", "scale": {"type": "log", "domain": [1, 50], "nice": false}, "axis": {"values": [1,2,3,4,5,6,7,8,9,10,20,30,40,50], "labelExpr": "abs(log(datum.value)/LN10-round(log(datum.value)/LN10))<0.001 ? format(datum.value,'~g') : ''", "gridColor": {"condition": {"test": "abs(log(datum.value)/LN10-round(log(datum.value)/LN10))<0.001", "value": "#9a9a9a"}, "value": "#cccccc"}}},
"y": {"field": "v", "type": "quantitative", "title": "H／Vスペクトル比", "scale": {"type": "log", "domain": [0.01, 100], "nice": false}, "axis": {"values": [0.01,0.02,0.03,0.04,0.05,0.06,0.07,0.08,0.09,0.1,0.2,0.3,0.4,0.5,0.6,0.7,0.8,0.9,1,2,3,4,5,6,7,8,9,10,20,30,40,50,60,70,80,90,100], "labelExpr": "abs(log(datum.value)/LN10-round(log(datum.value)/LN10))<0.001 ? format(datum.value,'~g') : ''", "gridColor": {"condition": {"test": "abs(log(datum.value)/LN10-round(log(datum.value)/LN10))<0.001", "value": "#9a9a9a"}, "value": "#cccccc"}}},
"color": {"field": "s", "type": "nominal", "scale": {"domain": ["理論", "観測"], "range": ["#ff0000", "#000000"]}, "legend": {"title": "T.P.−77.5m\u00a0\u00a0\u00a0\u00a0\u00a0\u00a0\u00a0\u00a0\u00a0\u00a0\u00a0\u00a0\u00a0\u00a0\u2800"}}
},
"layer": [
{"transform": [{"filter": "datum.s=='観測'"}], "mark": {"type": "line", "strokeWidth": 3, "clip": true}},
{"transform": [{"filter": "datum.s=='理論'"}], "mark": {"type": "line", "strokeWidth": 3, "clip": true}}
]}
]
},
{
"resolve": {"scale": {"color": "independent"}, "legend": {"color": "independent"}},
"spacing": 63,
"hconcat": [
{"width": 284, "height": 280, "data": {"name": "p3"},
"encoding": {
"x": {"field": "f", "type": "quantitative", "title": "振動数（Hz）", "scale": {"type": "log", "domain": [1, 50], "nice": false}, "axis": {"values": [1,2,3,4,5,6,7,8,9,10,20,30,40,50], "labelExpr": "abs(log(datum.value)/LN10-round(log(datum.value)/LN10))<0.001 ? format(datum.value,'~g') : ''", "gridColor": {"condition": {"test": "abs(log(datum.value)/LN10-round(log(datum.value)/LN10))<0.001", "value": "#9a9a9a"}, "value": "#cccccc"}}},
"y": {"field": "v", "type": "quantitative", "title": "H／Vスペクトル比", "scale": {"type": "log", "domain": [0.01, 100], "nice": false}, "axis": {"values": [0.01,0.02,0.03,0.04,0.05,0.06,0.07,0.08,0.09,0.1,0.2,0.3,0.4,0.5,0.6,0.7,0.8,0.9,1,2,3,4,5,6,7,8,9,10,20,30,40,50,60,70,80,90,100], "labelExpr": "abs(log(datum.value)/LN10-round(log(datum.value)/LN10))<0.001 ? format(datum.value,'~g') : ''", "gridColor": {"condition": {"test": "abs(log(datum.value)/LN10-round(log(datum.value)/LN10))<0.001", "value": "#9a9a9a"}, "value": "#cccccc"}}},
"color": {"field": "s", "type": "nominal", "scale": {"domain": ["理論", "観測"], "range": ["#ff0000", "#000000"]}, "legend": {"title": "T.P.−7.5m\u00a0\u00a0\u00a0\u00a0\u00a0\u00a0\u00a0\u00a0\u00a0\u00a0\u00a0\u00a0\u00a0\u00a0\u00a0\u2800"}}
},
"layer": [
{"transform": [{"filter": "datum.s=='観測'"}], "mark": {"type": "line", "strokeWidth": 3, "clip": true}},
{"transform": [{"filter": "datum.s=='理論'"}], "mark": {"type": "line", "strokeWidth": 3, "clip": true}}
]},
{"width": 284, "height": 280, "data": {"name": "p4"},
"encoding": {
"x": {"field": "f", "type": "quantitative", "title": "振動数（Hz）", "scale": {"type": "log", "domain": [1, 50], "nice": false}, "axis": {"values": [1,2,3,4,5,6,7,8,9,10,20,30,40,50], "labelExpr": "abs(log(datum.value)/LN10-round(log(datum.value)/LN10))<0.001 ? format(datum.value,'~g') : ''", "gridColor": {"condition": {"test": "abs(log(datum.value)/LN10-round(log(datum.value)/LN10))<0.001", "value": "#9a9a9a"}, "value": "#cccccc"}}},
"y": {"field": "v", "type": "quantitative", "title": "H／Vスペクトル比", "scale": {"type": "log", "domain": [0.01, 100], "nice": false}, "axis": {"values": [0.01,0.02,0.03,0.04,0.05,0.06,0.07,0.08,0.09,0.1,0.2,0.3,0.4,0.5,0.6,0.7,0.8,0.9,1,2,3,4,5,6,7,8,9,10,20,30,40,50,60,70,80,90,100], "labelExpr": "abs(log(datum.value)/LN10-round(log(datum.value)/LN10))<0.001 ? format(datum.value,'~g') : ''", "gridColor": {"condition": {"test": "abs(log(datum.value)/LN10-round(log(datum.value)/LN10))<0.001", "value": "#9a9a9a"}, "value": "#cccccc"}}},
"color": {"field": "s", "type": "nominal", "scale": {"domain": ["理論", "観測"], "range": ["#ff0000", "#000000"]}, "legend": {"title": "T.P.−207.5m\u00a0\u00a0\u00a0\u00a0\u00a0\u00a0\u00a0\u00a0\u00a0\u00a0\u00a0\u00a0\u2800"}}
},
"layer": [
{"transform": [{"filter": "datum.s=='観測'"}], "mark": {"type": "line", "strokeWidth": 3, "clip": true}},
{"transform": [{"filter": "datum.s=='理論'"}], "mark": {"type": "line", "strokeWidth": 3, "clip": true}}
]}
]
}
]
},
{
"resolve": {"scale": {"color": "independent"}, "legend": {"color": "independent"}},
"spacing": 27,
"hconcat": [
{"width": 284, "height": 280, "data": {"name": "p5"},
"encoding": {
"x": {"field": "f", "type": "quantitative", "title": "振動数（Hz）", "scale": {"type": "log", "domain": [1, 50], "nice": false}, "axis": {"values": [1,2,3,4,5,6,7,8,9,10,20,30,40,50], "labelExpr": "abs(log(datum.value)/LN10-round(log(datum.value)/LN10))<0.001 ? format(datum.value,'~g') : ''", "gridColor": {"condition": {"test": "abs(log(datum.value)/LN10-round(log(datum.value)/LN10))<0.001", "value": "#9a9a9a"}, "value": "#cccccc"}}},
"y": {"field": "v", "type": "quantitative", "title": "H／Vスペクトル比", "scale": {"type": "log", "domain": [0.01, 100], "nice": false}, "axis": {"values": [0.01,0.02,0.03,0.04,0.05,0.06,0.07,0.08,0.09,0.1,0.2,0.3,0.4,0.5,0.6,0.7,0.8,0.9,1,2,3,4,5,6,7,8,9,10,20,30,40,50,60,70,80,90,100], "labelExpr": "abs(log(datum.value)/LN10-round(log(datum.value)/LN10))<0.001 ? format(datum.value,'~g') : ''", "gridColor": {"condition": {"test": "abs(log(datum.value)/LN10-round(log(datum.value)/LN10))<0.001", "value": "#9a9a9a"}, "value": "#cccccc"}}},
"color": {"field": "s", "type": "nominal", "scale": {"domain": ["理論", "観測"], "range": ["#ff0000", "#000000"]}, "legend": {"title": "T.P.−47.5m\u00a0\u00a0\u00a0\u00a0\u00a0\u00a0\u00a0\u00a0\u00a0\u00a0\u00a0\u00a0\u00a0\u2800"}}
},
"layer": [
{"transform": [{"filter": "datum.s=='観測'"}], "mark": {"type": "line", "strokeWidth": 3, "clip": true}},
{"transform": [{"filter": "datum.s=='理論'"}], "mark": {"type": "line", "strokeWidth": 3, "clip": true}}
]},
{"width": 380, "height": 280, "view": {"stroke": null},
"data": {"values": [{"t": "解析区間は，Ｐ波初動到達１秒前\nから4秒間を基本とした。"}]},
"mark": {"type": "text", "align": "left", "baseline": "middle", "font": "Noto Sans CJK JP", "fontSize": 25, "lineBreak": "\n", "lineHeight": 33, "color": "#000000"},
"encoding": {"text": {"field": "t"}, "x": {"value": 0}, "y": {"value": 236}}}
]
}
],
"config": {
"view": {"stroke": "#8c8c8c", "strokeWidth": 1.5},
"font": "Liberation Sans",
"axis": {"grid": true, "gridWidth": 1, "domainColor": "#8c8c8c", "domainWidth": 1.5, "tickColor": "#8c8c8c", "tickSize": 5, "labelFont": "Liberation Sans", "labelFontSize": 13, "labelColor": "#000000", "titleFont": "Noto Sans CJK JP", "titleFontWeight": "normal", "titleColor": "#000000", "labelOverlap": false, "labelFlush": false, "labelBound": false},
"axisX": {"labelPadding": 12, "titleFontSize": 14, "titlePadding": 10},
"axisY": {"labelPadding": 11, "titleFontSize": 16, "titlePadding": 8},
"legend": {"orient": "top-left", "offset": 4, "padding": 8, "fillColor": "#ffffff", "strokeColor": "#999999", "titleFont": "DejaVu Sans", "titleFontSize": 15, "titleFontWeight": "normal", "titleColor": "#000000", "titlePadding": 7, "labelFont": "Noto Sans CJK JP", "labelFontSize": 15, "labelColor": "#000000", "symbolType": "M-2,0H2", "symbolSize": 306, "symbolStrokeWidth": 3, "rowPadding": 1.5, "labelOffset": 17, "symbolOffset": 13}
}
}
